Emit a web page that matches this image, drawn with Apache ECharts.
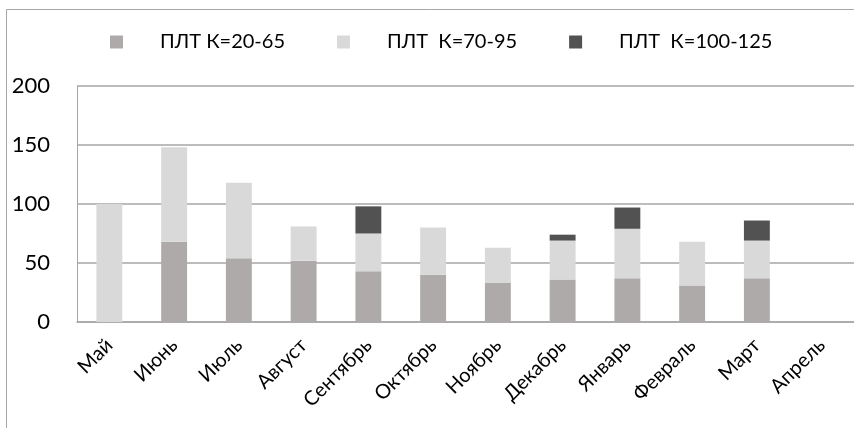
<!DOCTYPE html>
<html>
<head>
<meta charset="utf-8">
<script src="https://cdn.jsdelivr.net/npm/echarts@6/dist/echarts.min.js"></script>
<style>
  html, body { margin: 0; padding: 0; background: #fff; }
  #chart { width: 854px; height: 428px; }
</style>
</head>
<body>
<div id="chart"></div>
<script>
// Months of the observation period
const months = ['Май', 'Июнь', 'Июль', 'Август', 'Сентябрь', 'Октябрь', 'Ноябрь', 'Декабрь', 'Январь', 'Февраль', 'Март', 'Апрель'];

// Stacked counts per month for each PLT range
const seriesNames = ['ПЛТ К=20-65', 'ПЛТ  К=70-95', 'ПЛТ  К=100-125'];
const plt20to65 = [0, 68, 54, 52, 43, 40, 33, 36, 37, 31, 37, 0];
const plt70to95 = [100, 80, 64, 29, 32, 40, 30, 33, 42, 37, 32, 0];
const plt100to125 = [0, 0, 0, 0, 23, 0, 0, 5, 18, 0, 17, 0];

// Value axis ticks
const yTicks = [0, 50, 100, 150, 200];

const FONT = 'Lato, "Open Sans", sans-serif';
const colors = ['#aeaaaa', '#d9d9d9', '#525252'];
const values = [plt20to65, plt70to95, plt100to125];

const chart = echarts.init(document.getElementById('chart'), null, { renderer: 'canvas' });

chart.setOption({
  animation: false,
  backgroundColor: '#fff',
  color: colors,
  graphic: [{
    type: 'rect',
    shape: { x: 6.5, y: 9.5, width: 900, height: 500 },
    style: { fill: 'none', stroke: '#a6a6a6', lineWidth: 1 },
    silent: true
  }],
  legend: {
    left: 105,
    top: 27,
    icon: 'rect',
    itemWidth: 13,
    itemHeight: 13,
    itemGap: 52,
    textStyle: {
      fontFamily: FONT,
      fontSize: 20,
      color: '#000',
      padding: [0, 0, 0, 32]
    },
    data: seriesNames
  },
  grid: {
    left: 77,
    right: -6,
    top: 86,
    bottom: 106,
    containLabel: false
  },
  xAxis: {
    type: 'category',
    data: months,
    axisLine: { show: true, lineStyle: { color: '#a6a6a6', width: 1.5 } },
    axisTick: { show: false },
    axisLabel: {
      rotate: 45,
      margin: 20,
      interval: 0,
      fontFamily: FONT,
      fontSize: 20,
      color: '#000'
    }
  },
  yAxis: {
    type: 'value',
    min: yTicks[0],
    max: yTicks[yTicks.length - 1],
    interval: yTicks[1] - yTicks[0],
    axisLine: { show: true, lineStyle: { color: '#a6a6a6', width: 1 } },
    axisTick: { show: false },
    splitLine: { show: true, lineStyle: { color: '#a6a6a6', width: 1.5 } },
    axisLabel: {
      margin: 27,
      fontFamily: FONT,
      fontSize: 22,
      color: '#000'
    }
  },
  series: seriesNames.map((name, i) => ({
    name: name,
    type: 'bar',
    stack: 'plt',
    barWidth: '40%',
    data: values[i],
    itemStyle: { color: colors[i] }
  }))
});
</script>
</body>
</html>
